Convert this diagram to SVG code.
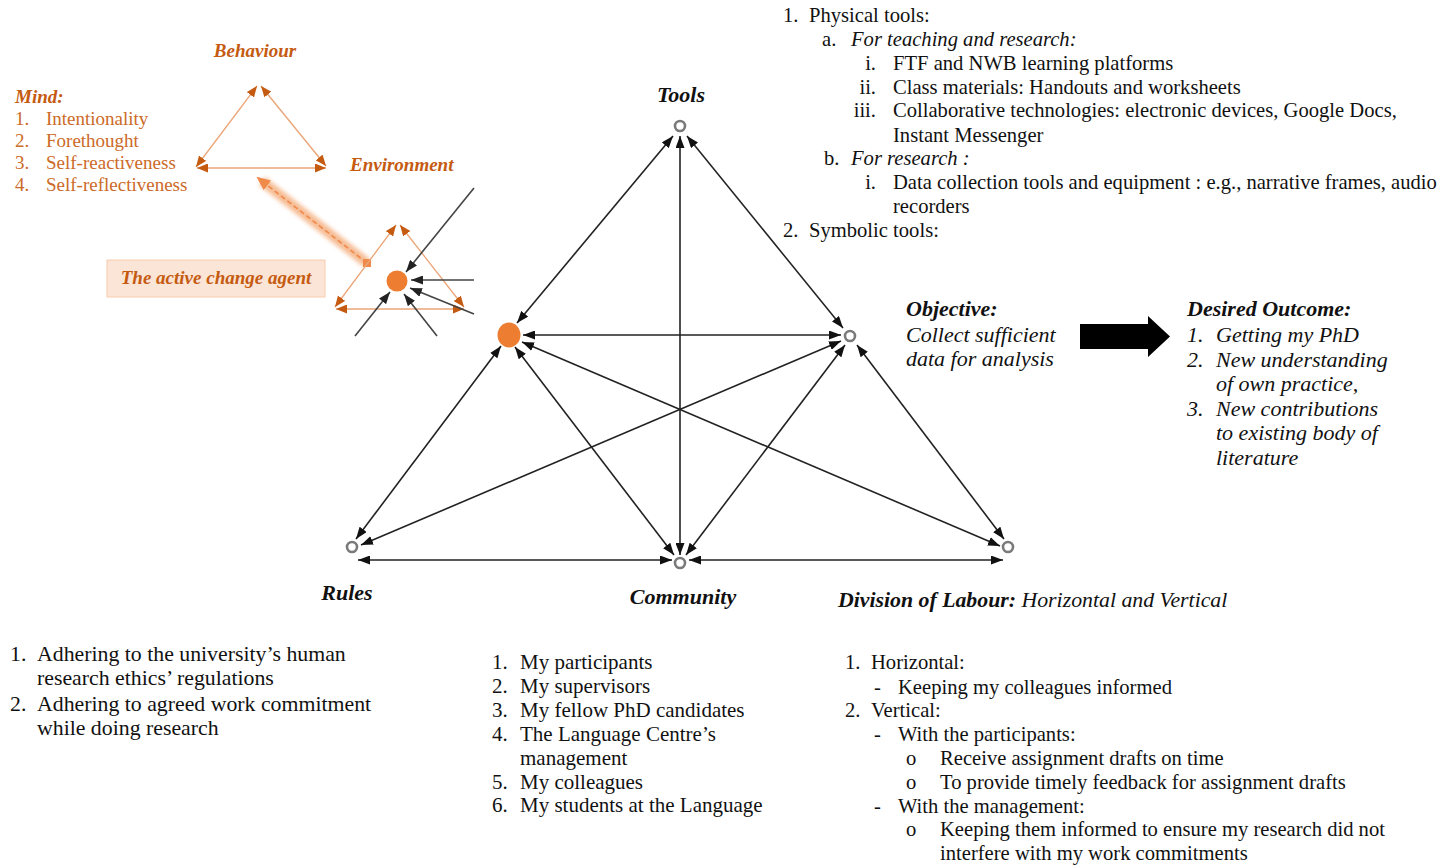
<svg xmlns="http://www.w3.org/2000/svg" width="1442" height="866" viewBox="0 0 1442 866">
  <style>
    text { font-family: "Liberation Serif", "Times New Roman", serif; }
    .t { font-size: 20.6px; fill: #111; }
    .tl { font-size: 21.8px; fill: #111; }
    .tc { font-size: 21px; fill: #111; }
    .it { font-style: italic; }
    .bi { font-style: italic; font-weight: bold; }
    .lbl { font-size: 22px; font-style: italic; font-weight: bold; fill: #111; }
    .obj { font-size: 22px; fill: #111; }
    .or { fill: #C55A11; }
    .orl { font-size: 19px; fill: #CC6A28; }
    .conn { stroke: #222; stroke-width: 1.6; fill: none; marker-start: url(#ah); marker-end: url(#ah); }
    .oconn { stroke: #EBA577; stroke-width: 1.3; fill: none; marker-start: url(#oah); marker-end: url(#oah); }
    .agent { stroke: #444; stroke-width: 1.6; fill: none; marker-end: url(#gah); }
    .ring { fill: #fff; stroke: #7a7a7a; stroke-width: 2.6; }
  </style>
  <defs>
    <marker id="ah" viewBox="0 0 12 9" refX="12" refY="4.5" markerWidth="12" markerHeight="9" markerUnits="userSpaceOnUse" orient="auto-start-reverse">
      <path d="M0,0 L12,4.5 L0,9 z" fill="#111"/>
    </marker>
    <marker id="gah" viewBox="0 0 12 9" refX="12" refY="4.5" markerWidth="12" markerHeight="9" markerUnits="userSpaceOnUse" orient="auto-start-reverse">
      <path d="M0,0 L12,4.5 L0,9 z" fill="#222"/>
    </marker>
    <marker id="oah" viewBox="0 0 11 9" refX="11" refY="4.5" markerWidth="11" markerHeight="9" markerUnits="userSpaceOnUse" orient="auto-start-reverse">
      <path d="M0,0 L11,4.5 L0,9 z" fill="#C55A11"/>
    </marker>
    <marker id="glowah" viewBox="0 0 14 12" refX="12" refY="6" markerWidth="14" markerHeight="12" markerUnits="userSpaceOnUse" orient="auto">
      <path d="M0,0 L14,6 L0,12 z" fill="#F08A4B"/>
    </marker>
    <filter id="soft" x="-20%" y="-20%" width="140%" height="140%">
      <feGaussianBlur stdDeviation="2.2"/>
    </filter>
  </defs>

  <!-- Agency model: behaviour / mind / environment -->
  <g id="agency-triangle">
    <text x="255" y="57" text-anchor="middle" class="bi or" font-size="19">Behaviour</text>
    <text x="350" y="171" class="bi or" font-size="19">Environment</text>
    <line x1="257" y1="86" x2="196" y2="167" class="oconn"/>
    <line x1="261" y1="86" x2="326" y2="166" class="oconn"/>
    <line x1="197" y1="168" x2="326" y2="168" class="oconn"/>
  </g>

  <g id="mind-list">
    <text x="15" y="103" class="bi or" font-size="19">Mind:</text>
    <text class="orl"><tspan x="15" y="125">1.</tspan><tspan x="46" y="125">Intentionality</tspan></text>
    <text class="orl"><tspan x="15" y="147">2.</tspan><tspan x="46" y="147">Forethought</tspan></text>
    <text class="orl"><tspan x="15" y="169">3.</tspan><tspan x="46" y="169">Self-reactiveness</tspan></text>
    <text class="orl"><tspan x="15" y="191">4.</tspan><tspan x="46" y="191">Self-reflectiveness</tspan></text>
  </g>

  <!-- glowing pointer from the agent triangle up to the agency model -->
  <g id="agent-pointer">
    <line x1="367" y1="263" x2="262" y2="181" stroke="#F6B98F" stroke-width="10" filter="url(#soft)" opacity="0.95"/>
    <line x1="367" y1="263" x2="258" y2="178" stroke="#F08A4B" stroke-width="1.6" stroke-dasharray="5 3" marker-end="url(#glowah)"/>
    <rect x="363" y="259" width="8" height="8" fill="#F08A4B"/>
  </g>

  <g id="agent-label">
    <rect x="107" y="260" width="218" height="37" fill="#FBE5D6" stroke="#F8CBAD" stroke-width="1"/>
    <text x="216" y="284" text-anchor="middle" class="bi or" font-size="19">The active change agent</text>
  </g>

  <g id="agent-triangle">
    <line x1="396" y1="225" x2="335" y2="307" class="oconn"/>
    <line x1="400" y1="225" x2="464" y2="307" class="oconn"/>
    <line x1="336" y1="309" x2="464" y2="309" class="oconn"/>
    <circle cx="397" cy="281" r="10.5" fill="#ED7D31"/>
    <line x1="474" y1="188" x2="406" y2="272" class="agent"/>
    <line x1="474" y1="280" x2="411" y2="280" class="agent"/>
    <line x1="474" y1="314" x2="410" y2="288" class="agent"/>
    <line x1="437" y1="336" x2="404" y2="294" class="agent"/>
    <line x1="355" y1="336" x2="390" y2="292" class="agent"/>
  </g>

  <!-- activity system connectors -->
  <g id="connectors">
    <line x1="673" y1="136" x2="517" y2="323" class="conn"/>
    <line x1="680" y1="136" x2="680" y2="555" class="conn"/>
    <line x1="687" y1="136" x2="843" y2="328" class="conn"/>
    <line x1="523" y1="335" x2="841" y2="335" class="conn"/>
    <line x1="501" y1="346" x2="356" y2="539" class="conn"/>
    <line x1="515" y1="347" x2="674" y2="555" class="conn"/>
    <line x1="522" y1="342" x2="1000" y2="546" class="conn"/>
    <line x1="841" y1="341" x2="361" y2="545" class="conn"/>
    <line x1="845" y1="345" x2="686" y2="555" class="conn"/>
    <line x1="857" y1="345" x2="1004" y2="539" class="conn"/>
    <line x1="358" y1="560" x2="672" y2="560" class="conn"/>
    <line x1="689" y1="560" x2="1003" y2="560" class="conn"/>
  </g>

  <!-- activity system nodes -->
  <g id="node-tools">
    <circle cx="680" cy="126" r="5" class="ring"/>
    <text x="681" y="102" text-anchor="middle" class="lbl">Tools</text>
  </g>
  <g id="node-subject">
    <ellipse cx="509" cy="335" rx="11.5" ry="12.5" fill="#ED7D31"/>
  </g>
  <g id="node-object">
    <circle cx="850" cy="336" r="5" class="ring"/>
    <text x="906" y="316" class="obj bi">Objective:</text>
    <text x="906" y="342" class="obj it">Collect sufficient</text>
    <text x="906" y="366" class="obj it">data for analysis</text>
  </g>
  <g id="node-rules">
    <circle cx="352" cy="547" r="5" class="ring"/>
    <text x="347" y="600" text-anchor="middle" class="lbl">Rules</text>
  </g>
  <g id="node-community">
    <circle cx="680" cy="563" r="5" class="ring"/>
    <text x="683" y="604" text-anchor="middle" class="lbl">Community</text>
  </g>
  <g id="node-division">
    <circle cx="1008" cy="547" r="5" class="ring"/>
    <text x="838" y="607" font-size="21.8" fill="#111"><tspan class="bi">Division of Labour:</tspan><tspan class="it"> Horizontal and Vertical</tspan></text>
  </g>

  <!-- outcome -->
  <g id="outcome-arrow">
    <path d="M1080,324 L1148,324 L1148,316 L1170,336.5 L1148,357 L1148,349 L1080,349 z" fill="#000"/>
  </g>
  <g id="node-outcome">
    <text x="1187" y="316" class="obj bi">Desired Outcome:</text>
    <text class="obj it"><tspan x="1187" y="342">1.</tspan><tspan x="1216" y="342">Getting my PhD</tspan></text>
    <text class="obj it"><tspan x="1187" y="367">2.</tspan><tspan x="1216" y="367">New understanding</tspan></text>
    <text class="obj it"><tspan x="1216" y="391">of own practice,</tspan></text>
    <text class="obj it"><tspan x="1187" y="416">3.</tspan><tspan x="1216" y="416">New contributions</tspan></text>
    <text class="obj it"><tspan x="1216" y="440">to existing body of</tspan></text>
    <text class="obj it"><tspan x="1216" y="465">literature</tspan></text>
  </g>

  <!-- tools list -->
  <g id="tools-list">
    <text class="t"><tspan x="783" y="22">1.</tspan><tspan x="809" y="22">Physical tools:</tspan></text>
    <text class="t"><tspan x="822" y="46">a.</tspan><tspan x="851" y="46" class="it">For teaching and research:</tspan></text>
    <text class="t"><tspan x="876" y="70" text-anchor="end">i.</tspan><tspan x="893" y="70">FTF and NWB learning platforms</tspan></text>
    <text class="t"><tspan x="876" y="94" text-anchor="end">ii.</tspan><tspan x="893" y="94">Class materials: Handouts and worksheets</tspan></text>
    <text class="t"><tspan x="876" y="117" text-anchor="end">iii.</tspan><tspan x="893" y="117">Collaborative technologies: electronic devices, Google Docs,</tspan></text>
    <text class="t" x="893" y="142">Instant Messenger</text>
    <text class="t"><tspan x="824" y="165">b.</tspan><tspan x="851" y="165" class="it">For research :</tspan></text>
    <text class="t"><tspan x="876" y="189" text-anchor="end">i.</tspan><tspan x="893" y="189">Data collection tools and equipment : e.g., narrative frames, audio</tspan></text>
    <text class="t" x="893" y="213">recorders</text>
    <text class="t"><tspan x="783" y="237">2.</tspan><tspan x="809" y="237">Symbolic tools:</tspan></text>
  </g>

  <!-- rules list -->
  <g id="rules-list">
    <text class="tl"><tspan x="10" y="661">1.</tspan><tspan x="37" y="661">Adhering to the university’s human</tspan></text>
    <text class="tl" x="37" y="685">research ethics’ regulations</text>
    <text class="tl"><tspan x="10" y="711">2.</tspan><tspan x="37" y="711">Adhering to agreed work commitment</tspan></text>
    <text class="tl" x="37" y="735">while doing research</text>
  </g>

  <!-- community list -->
  <g id="community-list">
    <text class="tc"><tspan x="492" y="669">1.</tspan><tspan x="520" y="669">My participants</tspan></text>
    <text class="tc"><tspan x="492" y="693">2.</tspan><tspan x="520" y="693">My supervisors</tspan></text>
    <text class="tc"><tspan x="492" y="717">3.</tspan><tspan x="520" y="717">My fellow PhD candidates</tspan></text>
    <text class="tc"><tspan x="492" y="741">4.</tspan><tspan x="520" y="741">The Language Centre’s</tspan></text>
    <text class="tc" x="520" y="765">management</text>
    <text class="tc"><tspan x="492" y="789">5.</tspan><tspan x="520" y="789">My colleagues</tspan></text>
    <text class="tc"><tspan x="492" y="812">6.</tspan><tspan x="520" y="812">My students at the Language</tspan></text>
  </g>

  <!-- division of labour list -->
  <g id="division-list">
    <text class="t"><tspan x="845" y="669">1.</tspan><tspan x="871" y="669">Horizontal:</tspan></text>
    <text class="t"><tspan x="874" y="694">-</tspan><tspan x="898" y="694">Keeping my colleagues informed</tspan></text>
    <text class="t"><tspan x="845" y="717">2.</tspan><tspan x="871" y="717">Vertical:</tspan></text>
    <text class="t"><tspan x="874" y="741">-</tspan><tspan x="898" y="741">With the participants:</tspan></text>
    <text class="t"><tspan x="906" y="765">o</tspan><tspan x="940" y="765">Receive assignment drafts on time</tspan></text>
    <text class="t"><tspan x="906" y="789">o</tspan><tspan x="940" y="789">To provide timely feedback for assignment drafts</tspan></text>
    <text class="t"><tspan x="874" y="813">-</tspan><tspan x="898" y="813">With the management:</tspan></text>
    <text class="t"><tspan x="906" y="836">o</tspan><tspan x="940" y="836">Keeping them informed to ensure my research did not</tspan></text>
    <text class="t" x="940" y="860">interfere with my work commitments</text>
  </g>
</svg>
